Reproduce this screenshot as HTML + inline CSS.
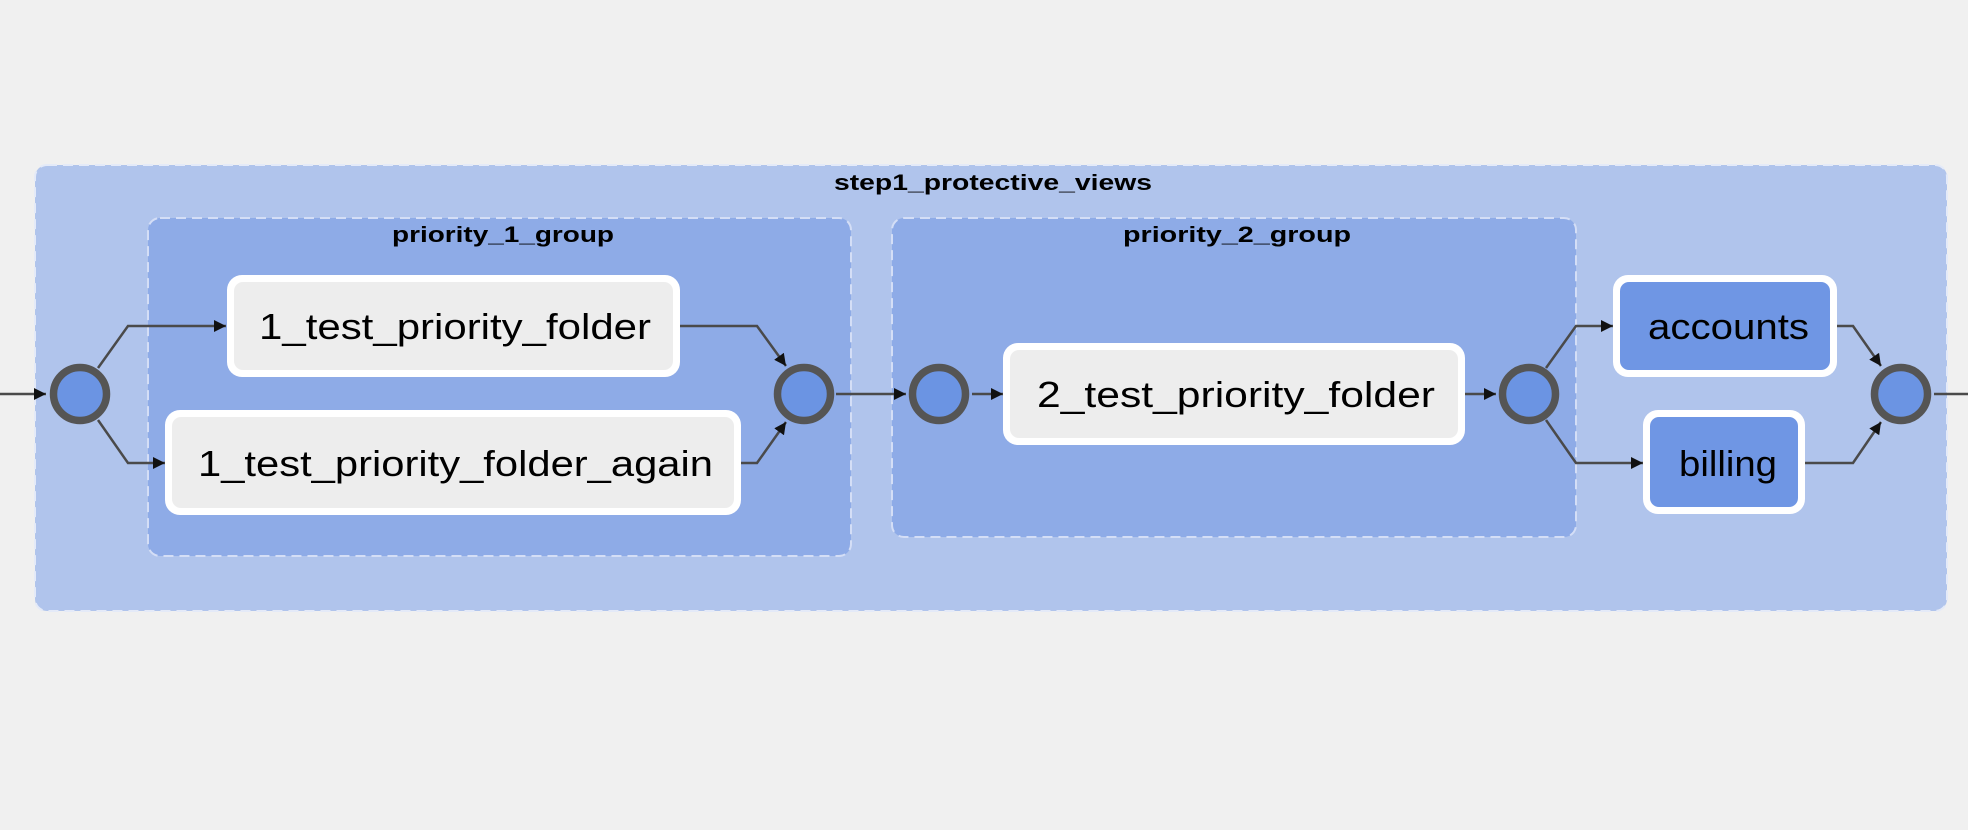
<!DOCTYPE html>
<html><head><meta charset="utf-8"><style>
html,body{margin:0;padding:0;background:#f0f0f0;}
svg{display:block}
text{font-family:"Liberation Sans",sans-serif;fill:#000}
.g{font-size:22px;font-weight:bold}
.n{font-size:36px}
</style></head><body>
<svg width="1968" height="830" viewBox="0 0 1968 830" xmlns="http://www.w3.org/2000/svg">
<defs>
<marker id="a" viewBox="0 0 10 10" refX="10" refY="5" markerWidth="12" markerHeight="12" markerUnits="userSpaceOnUse" orient="auto"><path d="M0,0L10,5L0,10z" fill="#111"/></marker>
</defs>
<rect width="1968" height="830" fill="#f0f0f0"/>
<rect x="35" y="165" width="1912" height="446" rx="12" fill="#b0c4ec" stroke="#e4eaf8" stroke-width="2" stroke-dasharray="10,6"/>
<text class="g" x="834" y="190" textLength="318" lengthAdjust="spacingAndGlyphs">step1_protective_views</text>
<rect x="148" y="218" width="703" height="338" rx="12" fill="#8eabe7" stroke="#d4def6" stroke-width="2" stroke-dasharray="10,6"/>
<text class="g" x="392" y="242" textLength="222" lengthAdjust="spacingAndGlyphs">priority_1_group</text>
<rect x="892" y="218" width="684" height="319" rx="12" fill="#8eabe7" stroke="#d4def6" stroke-width="2" stroke-dasharray="10,6"/>
<text class="g" x="1123" y="242" textLength="228" lengthAdjust="spacingAndGlyphs">priority_2_group</text>

<g fill="none" stroke="#4a4a4a" stroke-width="2.5">
<path d="M0,394 L46,394" marker-end="url(#a)"/>
<path d="M98,368 L128,326 L226,326" marker-end="url(#a)"/>
<path d="M98,420 L128,463 L165,463" marker-end="url(#a)"/>
<path d="M680,326 L757,326 L786,366" marker-end="url(#a)"/>
<path d="M741,463 L757,463 L786,422" marker-end="url(#a)"/>
<path d="M836,394 L906,394" marker-end="url(#a)"/>
<path d="M972,394 L1003,394" marker-end="url(#a)"/>
<path d="M1465,394 L1496,394" marker-end="url(#a)"/>
<path d="M1546,368 L1576,326 L1613,326" marker-end="url(#a)"/>
<path d="M1546,420 L1576,463 L1643,463" marker-end="url(#a)"/>
<path d="M1837,326 L1853,326 L1881,366" marker-end="url(#a)"/>
<path d="M1805,463 L1853,463 L1881,422" marker-end="url(#a)"/>
<path d="M1934,394 L1968,394"/>
</g>

<g fill="#6b94e3" stroke="#555" stroke-width="7.5">
<circle cx="80" cy="394" r="26.5"/>
<circle cx="804" cy="394" r="26.5"/>
<circle cx="939" cy="394" r="26.5"/>
<circle cx="1529" cy="394" r="26.5"/>
<circle cx="1901" cy="394" r="26.5"/>
</g>

<rect x="227" y="275" width="453" height="102" rx="15" fill="#fff"/>
<rect x="234" y="282" width="439" height="88" rx="9" fill="#ededed"/>
<text class="n" x="259" y="339" textLength="392" lengthAdjust="spacingAndGlyphs">1_test_priority_folder</text>

<rect x="165" y="410" width="576" height="105" rx="15" fill="#fff"/>
<rect x="172" y="417" width="562" height="91" rx="9" fill="#ededed"/>
<text class="n" x="198" y="476" textLength="515" lengthAdjust="spacingAndGlyphs">1_test_priority_folder_again</text>

<rect x="1003" y="343" width="462" height="102" rx="15" fill="#fff"/>
<rect x="1010" y="350" width="448" height="88" rx="9" fill="#ededed"/>
<text class="n" x="1037" y="407" textLength="398" lengthAdjust="spacingAndGlyphs">2_test_priority_folder</text>

<rect x="1613" y="275" width="224" height="102" rx="15" fill="#fff"/>
<rect x="1620" y="282" width="210" height="88" rx="9" fill="#6f96e4"/>
<text class="n" x="1648" y="339" textLength="161" lengthAdjust="spacingAndGlyphs">accounts</text>

<rect x="1643" y="410" width="162" height="104" rx="15" fill="#fff"/>
<rect x="1650" y="417" width="148" height="90" rx="9" fill="#6f96e4"/>
<text class="n" x="1679" y="476" textLength="98" lengthAdjust="spacingAndGlyphs">billing</text>
</svg>
</body></html>
